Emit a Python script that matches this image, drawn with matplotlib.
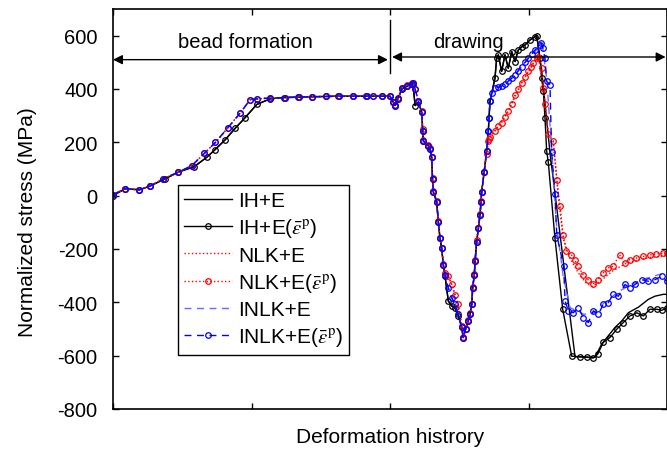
import matplotlib
matplotlib.use("Agg")
import matplotlib.pyplot as plt

plt.rcParams['font.family'] = ['Liberation Sans', 'DejaVu Sans']
plt.rcParams['mathtext.fontset'] = 'stix'

# bead formation phase (x in arbitrary history units, 0..2)
bead_x_ih = [0, 0.087, 0.19, 0.267, 0.375, 0.471, 0.587, 0.677, 0.736, 0.809, 0.881, 0.953,
             1.038, 1.134, 1.237, 1.338, 1.439, 1.536, 1.627, 1.731, 1.832, 1.94]
bead_y_ih = [0, 26, 22, 36, 63, 88, 109, 144, 172, 209, 252, 292,
             342, 363, 368, 369, 371, 372, 373, 373, 373, 373]
bead_x_k = [0, 0.087, 0.19, 0.267, 0.36, 0.471, 0.57, 0.66, 0.74, 0.83, 0.92, 0.99,
            1.04, 1.13, 1.24, 1.34, 1.44, 1.54, 1.63, 1.73, 1.83, 1.88, 1.94]
bead_y_k = [4, 26, 22, 36, 63, 88, 113, 159, 200, 255, 311, 360,
            363, 366, 368, 370, 371, 372, 373, 373, 373, 374, 373]

# drawing: first dip (2.0 .. 2.72)
dip_x = [2.0, 2.022, 2.036, 2.058, 2.087, 2.12, 2.157, 2.166, 2.181, 2.205, 2.229, 2.236,
         2.240, 2.277, 2.289, 2.301, 2.307, 2.313, 2.337, 2.349, 2.361, 2.373, 2.385, 2.397,
         2.421, 2.446, 2.469, 2.493, 2.518, 2.529, 2.546, 2.565, 2.578, 2.590, 2.597, 2.609,
         2.614, 2.626, 2.638, 2.650, 2.657, 2.662, 2.680, 2.698, 2.710, 2.715, 2.722]
dip_y_ih = [373, 352, 340, 365, 400, 410, 418, 420, 338, 350, 313, 243,
            206, 187, 175, 144, 63, 14, -23, -98, -160, -197, -259, -300,
            -395, -414, -420, -450, -494, -532, -500, -469, -445, -408, -346, -296,
            -246, -172, -123, -73, -23, 14, 90, 168, 243, 292, 354]
dip_y_nlk = [373, 350, 338, 362, 404, 414, 421, 423, 400, 356, 318, 250,
             210, 190, 178, 146, 66, 16, -20, -95, -157, -195, -255, -290,
             -302, -333, -371, -408, -490, -530, -500, -466, -440, -405, -342, -292,
             -240, -168, -120, -70, -20, 14, 90, 156, 206, 212, 220]
dip_y_inlk = [373, 350, 336, 362, 404, 412, 420, 423, 400, 354, 313, 243,
              206, 187, 175, 144, 63, 14, -23, -98, -160, -197, -259, -296,
              -346, -383, -408, -445, -494, -535, -500, -469, -445, -408, -346, -296,
              -246, -172, -123, -73, -23, 14, 90, 168, 243, 292, 354]

# drawing: second loading / unloading
tail_x_ih = [2.758, 2.770, 2.782, 2.806, 2.830, 2.854, 2.879, 2.903, 2.926, 2.951, 2.975, 3.011,
             3.047, 3.059, 3.095, 3.155, 3.336, 3.480, 3.529, 3.577, 3.625, 3.673, 3.721, 3.794,
             3.865, 3.913, 3.973, 4.0]
tail_y_ih = [441, 515, 528, 466, 528, 478, 540, 503, 546, 558, 565, 584,
             596, 600, 470, 162, -604, -606, -556, -525, -494, -470, -439, -418,
             -389, -377, -370, -370]
tail_x_ih_m = [2.758, 2.770, 2.782, 2.806, 2.830, 2.854, 2.879, 2.903, 2.926, 2.951, 2.975, 3.011,
               3.047, 3.059, 3.083, 3.095, 3.107, 3.119, 3.131, 3.143, 3.191, 3.247, 3.312, 3.370,
               3.420, 3.468, 3.500, 3.540, 3.588, 3.637, 3.684, 3.733, 3.781, 3.829, 3.877, 3.926,
               3.962, 3.998]
tail_y_ih_m = [441, 515, 528, 466, 528, 478, 540, 503, 546, 558, 565, 584,
               596, 600, 515, 441, 392, 292, 168, 125, -160, -426, -602, -604,
               -606, -609, -594, -550, -532, -501, -476, -451, -439, -451, -426, -426,
               -430, -420]
tail_x_nlk = [2.758, 2.854, 2.951, 3.035, 3.071, 3.107, 3.143, 3.179, 3.215, 3.250, 3.300, 3.360,
              3.420, 3.460, 3.520, 3.600, 3.700, 3.800, 3.900, 4.0]
tail_y_nlk = [243, 317, 423, 497, 521, 404, 230, 200, 0, -160, -235, -290,
              -330, -340, -320, -285, -255, -240, -230, -225]
tail_x_nlk_m = [2.758, 2.782, 2.806, 2.830, 2.854, 2.879, 2.903, 2.926, 2.951, 2.975, 2.999, 3.020,
                3.035, 3.059, 3.071, 3.095, 3.107, 3.119, 3.143, 3.179, 3.205, 3.228, 3.250, 3.274,
                3.310, 3.334, 3.358, 3.394, 3.430, 3.466, 3.502, 3.538, 3.574, 3.610, 3.658, 3.694,
                3.730, 3.779, 3.827, 3.875, 3.923, 3.971, 4.0]
tail_y_nlk_m = [243, 262, 274, 295, 317, 345, 379, 400, 423, 445, 466, 482,
                497, 515, 521, 478, 404, 342, 230, 206, 60, -40, -148, -209,
                -222, -240, -265, -296, -315, -331, -315, -290, -271, -265, -222, -253,
                -240, -234, -228, -222, -219, -216, -216]
tail_x_inlk = [2.734, 2.806, 2.903, 2.999, 3.083, 3.100, 3.131, 3.167, 3.200, 3.250, 3.300, 3.400,
               3.470, 3.550, 3.650, 3.750, 3.850, 3.950, 4.0]
tail_y_inlk = [385, 415, 455, 515, 560, 565, 440, 180, -100, -300, -420, -445,
               -440, -400, -360, -330, -310, -295, -290]
tail_x_inlk_m = [2.734, 2.758, 2.782, 2.806, 2.830, 2.854, 2.879, 2.903, 2.926, 2.951, 2.975, 2.999,
                 3.023, 3.047, 3.083, 3.092, 3.104, 3.119, 3.131, 3.155, 3.167, 3.191, 3.204, 3.254,
                 3.264, 3.288, 3.324, 3.360, 3.396, 3.432, 3.468, 3.504, 3.540, 3.576, 3.612, 3.649,
                 3.697, 3.733, 3.769, 3.817, 3.865, 3.913, 3.962, 3.998]
tail_y_inlk_m = [385, 404, 407, 410, 420, 429, 440, 453, 468, 484, 500, 515,
                 530, 546, 565, 571, 553, 515, 429, 416, 162, 7, -148, -265,
                 -395, -432, -439, -420, -457, -476, -432, -445, -408, -401, -370, -377,
                 -333, -346, -333, -315, -321, -315, -302, -321]

labels = ['IH+E', r'IH+E($\bar{\varepsilon}^{\mathrm{p}}$)', 'NLK+E',
          r'NLK+E($\bar{\varepsilon}^{\mathrm{p}}$)', 'INLK+E',
          r'INLK+E($\bar{\varepsilon}^{\mathrm{p}}$)']
yticks = [-800, -600, -400, -200, 0, 200, 400, 600]

fig = plt.figure(figsize=(6.67, 4.52), dpi=100)
ax = fig.add_axes([113 / 667, 42 / 452, 554 / 667, 400 / 452])

mk = dict(marker='o', mfc='none', ms=4, mew=0.9)
ax.plot(bead_x_ih + dip_x + tail_x_ih, bead_y_ih + dip_y_ih + tail_y_ih,
        color='black', lw=1.0, label=labels[0])
ax.plot(bead_x_ih + dip_x + tail_x_ih_m, bead_y_ih + dip_y_ih + tail_y_ih_m,
        color='black', lw=1.0, label=labels[1], **mk)
ax.plot(bead_x_k + dip_x + tail_x_nlk, bead_y_k + dip_y_nlk + tail_y_nlk,
        color='red', lw=1.0, ls=':', label=labels[2])
ax.plot(bead_x_k + dip_x + tail_x_nlk_m, bead_y_k + dip_y_nlk + tail_y_nlk_m,
        color='red', lw=1.0, ls=':', label=labels[3], **mk)
ax.plot(bead_x_k + dip_x + tail_x_inlk, bead_y_k + dip_y_inlk + tail_y_inlk,
        color='#6a6aff', lw=1.0, ls=(0, (5, 4)), label=labels[4])
ax.plot(bead_x_k + dip_x + tail_x_inlk_m, bead_y_k + dip_y_inlk + tail_y_inlk_m,
        color='blue', lw=1.0, ls=(0, (5, 4)), label=labels[5], **mk)

# phase annotations
ap = dict(arrowstyle='<|-|>', color='black', lw=1.0, shrinkA=0, shrinkB=0,
          mutation_scale=14)
ax.annotate('', xy=(0.0, 510), xytext=(1.985, 510), arrowprops=ap)
ax.annotate('', xy=(2.015, 520), xytext=(3.99, 520), arrowprops=ap)
ax.plot([2.0, 2.0], [461, 658], color='black', lw=1.0)
ax.text(0.953, 556, 'bead formation', ha='center', va='baseline', fontsize=14.5)
ax.text(2.563, 559, 'drawing', ha='center', va='baseline', fontsize=14.5)

ax.set_xlim(0, 4)
ax.set_ylim(-800, 700)
ax.set_xticks([0, 1, 2, 3, 4])
ax.set_xticklabels([])
ax.set_yticks(yticks)
ax.set_yticklabels([str(t) for t in yticks])
ax.tick_params(direction='in', top=True, right=True, length=4, width=1,
               labelsize=14.5, pad=11)
for s in ax.spines.values():
    s.set_linewidth(1.2)

ax.set_ylabel('Normalized stress (MPa)', fontsize=15)
ax.yaxis.set_label_coords(-0.137, 0.47)
ax.set_xlabel('Deformation histrory', fontsize=15)
ax.xaxis.set_label_coords(0.5, -0.045)

leg = ax.legend(loc='upper left', bbox_to_anchor=(0.117, 0.56), fontsize=15,
                frameon=True, fancybox=False, edgecolor='black', framealpha=1,
                handlelength=2.3, handletextpad=0.3, labelspacing=0.3,
                borderpad=0.3, numpoints=1, borderaxespad=0)
leg.get_frame().set_linewidth(1.0)

fig.savefig('out.png', dpi=100)
